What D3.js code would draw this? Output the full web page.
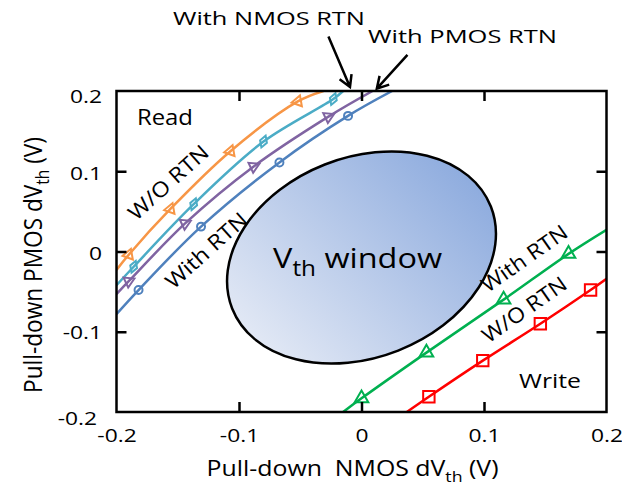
<!DOCTYPE html>
<html><head><meta charset="utf-8">
<script src="https://cdn.jsdelivr.net/npm/d3@7"></script>
<style>
body{margin:0;background:#fff}
svg{display:block}
text{font-family:"Open Sans",sans-serif;fill:#000}
</style>
</head><body>
<svg id="chart" width="622" height="486"></svg>
<script>
// ---------- data ----------
const xTickValues = [-0.2, -0.1, 0, 0.1, 0.2];
const yTickValues = [-0.2, -0.1, 0, 0.1, 0.2];
const xTickLabels = ["-0.2", "-0.1", "0", "0.1", "0.2"];
const yTickLabels = ["-0.2", "-0.1", "0", "0.1", "0.2"];

// Read region (first and last points are where the curves meet the frame)
const readWoRtnX   = [-0.2, -0.190, -0.156, -0.107, -0.052, -0.031];
const readWoRtnY   = [-0.023, -0.004, 0.053, 0.125, 0.187, 0.2];
const readNmosX    = [-0.2, -0.186, -0.137, -0.080, -0.023, -0.015];
const readNmosY    = [-0.042, -0.019, 0.059, 0.137, 0.190, 0.2];
const readPmosX    = [-0.2, -0.190, -0.144, -0.088, -0.027, 0.009];
const readPmosY    = [-0.053, -0.037, 0.035, 0.106, 0.168, 0.2];
const readWithRtnX = [-0.2, -0.182, -0.131, -0.067, -0.011, 0.025];
const readWithRtnY = [-0.078, -0.048, 0.031, 0.111, 0.169, 0.2];

// Write region
const writeWithRtnX = [-0.015, 0.000, 0.053, 0.116, 0.169, 0.2];
const writeWithRtnY = [-0.2, -0.183, -0.126, -0.060, -0.003, 0.027];
const writeWoRtnX   = [0.037, 0.055, 0.099, 0.146, 0.187, 0.2];
const writeWoRtnY   = [-0.2, -0.181, -0.136, -0.090, -0.048, -0.034];

// ---------- layout ----------
const svg = d3.select("#chart");
const x = d3.scaleLinear().domain([-0.2, 0.2]).range([116.5, 606.5]);
const y = d3.scaleLinear().domain([-0.2, 0.2]).range([412, 91]);
const SX = 1.2; // horizontal stretch of the lettering

const defs = svg.append("defs");
defs.append("clipPath").attr("id", "plotClip").append("rect")
  .attr("x", x(-0.2)).attr("y", y(0.2))
  .attr("width", x(0.2) - x(-0.2)).attr("height", y(-0.2) - y(0.2));

// ---------- Vth window ellipse ----------
const ellCenter = [0, -0.0075];
const ellRot = -21.5;
const ellRx = x(0.1135) - x(0);   // semi-major, px
const ellRy = y(0) - y(0.1246);   // semi-minor, px
const gAng = (-45 - ellRot) * Math.PI / 180, gR = ellRx;
const grad = defs.append("linearGradient").attr("id", "winGrad")
  .attr("gradientUnits", "userSpaceOnUse")
  .attr("x1", -gR * Math.cos(gAng)).attr("y1", -gR * Math.sin(gAng))
  .attr("x2", gR * Math.cos(gAng)).attr("y2", gR * Math.sin(gAng));
grad.append("stop").attr("offset", "0%").attr("stop-color", "#e3e9f5");
grad.append("stop").attr("offset", "100%").attr("stop-color", "#8dabde");
svg.append("ellipse")
  .attr("transform", `translate(${x(ellCenter[0])},${y(ellCenter[1])}) rotate(${ellRot})`)
  .attr("rx", ellRx).attr("ry", ellRy)
  .attr("fill", "url(#winGrad)").attr("stroke", "#000").attr("stroke-width", 2.5);

// ---------- curves ----------
const series = [
  {xs: readWoRtnX,   ys: readWoRtnY,   color: "#f79646", sym: d3.symbolTriangle, size: 52, rot: 140},
  {xs: readNmosX,    ys: readNmosY,    color: "#4bacc6", sym: d3.symbolDiamond,  size: 45, rot: 20},
  {xs: readPmosX,    ys: readPmosY,    color: "#8064a2", sym: d3.symbolTriangle, size: 52, rot: 65},
  {xs: readWithRtnX, ys: readWithRtnY, color: "#4f81bd", sym: d3.symbolCircle,   size: 50, rot: 0},
  {xs: writeWithRtnX, ys: writeWithRtnY, color: "#00b050", sym: d3.symbolTriangle, size: 80, rot: 0},
  {xs: writeWoRtnX,   ys: writeWoRtnY,   color: "#ff0000", sym: d3.symbolSquare,   size: 130, rot: 0}
];
const plot = svg.append("g").attr("clip-path", "url(#plotClip)");
const line = d3.line().x(d => x(d[0])).y(d => y(d[1])).curve(d3.curveCatmullRom.alpha(0.5));
series.forEach(s => {
  const pts = s.xs.map((v, i) => [v, s.ys[i]]);
  plot.append("path").attr("d", line(pts))
    .attr("fill", "none").attr("stroke", s.color).attr("stroke-width", 2.5);
  plot.selectAll(null).data(pts.slice(1, -1)).enter().append("path")
    .attr("d", d3.symbol().type(s.sym).size(s.size))
    .attr("transform", d => `translate(${x(d[0])},${y(d[1])}) rotate(${s.rot})`)
    .attr("fill", "none").attr("stroke", s.color).attr("stroke-width", 2);
});

// ---------- frame & ticks ----------
svg.append("rect")
  .attr("x", x(-0.2)).attr("y", y(0.2))
  .attr("width", x(0.2) - x(-0.2)).attr("height", y(-0.2) - y(0.2))
  .attr("fill", "none").attr("stroke", "#000").attr("stroke-width", 2.5);

const innerX = xTickValues.slice(1, -1), innerY = yTickValues.slice(1, -1);
function tickAxis(axis, tx, ty) {
  const g = svg.append("g").attr("transform", `translate(${tx},${ty})`).call(axis);
  g.select(".domain").remove();
  g.selectAll("line").attr("stroke", "#000").attr("stroke-width", 2.5);
  g.selectAll("text").remove();
}
tickAxis(d3.axisBottom(x).tickValues(innerX).tickSizeInner(-10).tickSizeOuter(0), 0, y(-0.2));
tickAxis(d3.axisTop(x).tickValues(innerX).tickSizeInner(-10).tickSizeOuter(0), 0, y(0.2));
tickAxis(d3.axisLeft(y).tickValues(innerY).tickSizeInner(-10).tickSizeOuter(0), x(-0.2), 0);
tickAxis(d3.axisRight(y).tickValues(innerY).tickSizeInner(-10).tickSizeOuter(0), x(0.2), 0);

// tick labels
const gxl = svg.append("g").attr("transform", `translate(0,${y(-0.2)})`)
  .call(d3.axisBottom(x).tickValues(xTickValues).tickSize(0).tickPadding(17)
        .tickFormat((d, i) => xTickLabels[i]));
gxl.select(".domain").remove();
gxl.selectAll("text").attr("font-size", 19).attr("font-family", "Open Sans")
  .attr("fill", "#000").attr("transform", `scale(${SX},1)`);

const yOff = {"-0.2": 6, "-0.1": 0.5, "0": 1.5, "0.1": 2, "0.2": 5};
const gyl = svg.append("g").attr("transform", `translate(${x(-0.2)},0)`)
  .call(d3.axisLeft(y).tickValues(yTickValues).tickSize(0).tickPadding(12)
        .tickFormat((d, i) => yTickLabels[i]));
gyl.select(".domain").remove();
gyl.selectAll("text").attr("font-size", 19).attr("font-family", "Open Sans")
  .attr("fill", "#000")
  .attr("transform", d => `translate(${d === -0.2 ? -5 : 0},${yOff[String(d)]}) scale(${SX},1)`);

// ---------- text helper ----------
function addText(parts, px, py, o) {
  const t = svg.append("text")
    .attr("transform", `translate(${px},${py}) scale(${o.sx || 1},1) rotate(${o.rot || 0})`)
    .attr("font-size", o.fs).attr("text-anchor", o.anchor || "start")
    .style("white-space", "pre");
  if (o.len) t.attr("textLength", o.len).attr("lengthAdjust", "spacingAndGlyphs");
  if (o.dom) t.attr("dominant-baseline", o.dom);
  parts.forEach(p => {
    const ts = t.append("tspan").text(p.t);
    if (p.fs) ts.attr("font-size", p.fs);
    if (p.dy) ts.attr("dy", p.dy);
  });
  return t;
}

// axis titles
addText([{t: "Pull-down  NMOS dV"}, {t: "th", fs: 15, dy: 6}, {t: " (V)", dy: -6}],
  (x(-0.2) + x(0.2)) / 2 - 9, 476, {fs: 21, anchor: "middle", len: 292});
addText([{t: "Pull-down PMOS dV"}, {t: "th", fs: 15, dy: 6}, {t: " (V)", dy: -6}],
  42, 265, {fs: 22, anchor: "middle", len: 256, rot: -90, sx: 1.15});

// region labels
addText([{t: "Read"}], x(-0.1833), y(0.1576), {fs: 21, len: 56});
addText([{t: "Write"}], x(0.1286), y(-0.1705), {fs: 20, len: 62});
addText([{t: "V"}, {t: "th", fs: 21, dy: 8}, {t: " window", dy: -8}],
  x(-0.0722), y(-0.0209), {fs: 28, len: 169});

// curve labels
addText([{t: "W/O RTN"}], x(-0.158), y(0.0866), {fs: 21, anchor: "middle", dom: "central", rot: -42, len: 100});
addText([{t: "With RTN"}], x(-0.127), y(0.0019), {fs: 21, anchor: "middle", dom: "central", rot: -42, len: 102});
addText([{t: "With RTN"}], x(0.1327), y(-0.0081), {fs: 21, anchor: "middle", dom: "central", rot: -35, len: 100});
addText([{t: "W/O RTN"}], x(0.1327), y(-0.0717), {fs: 21, anchor: "middle", dom: "central", rot: -35, len: 98});

// top annotations with arrows
addText([{t: "With NMOS RTN"}], x(-0.1539), y(0.2822), {fs: 19, len: 192});
addText([{t: "With PMOS RTN"}], x(0.0053), y(0.2592), {fs: 19, len: 189});

const arrows = [
  {from: [-0.027, 0.268], to: [-0.0094, 0.205]},
  {from: [0.0375, 0.245], to: [0.0125, 0.203]}
];
arrows.forEach(a => {
  const x0 = x(a.from[0]), y0 = y(a.from[1]), x1 = x(a.to[0]), y1 = y(a.to[1]);
  const ang = Math.atan2(y1 - y0, x1 - x0), L = 13, sp = Math.PI / 6;
  const hx1 = x1 - L * Math.cos(ang - sp), hy1 = y1 - L * Math.sin(ang - sp);
  const hx2 = x1 - L * Math.cos(ang + sp), hy2 = y1 - L * Math.sin(ang + sp);
  svg.append("path")
    .attr("d", `M${x0},${y0}L${x1},${y1}M${hx1},${hy1}L${x1},${y1}L${hx2},${hy2}`)
    .attr("fill", "none").attr("stroke", "#000").attr("stroke-width", 2.5)
    .attr("stroke-linejoin", "miter");
});
</script>
</body></html>
